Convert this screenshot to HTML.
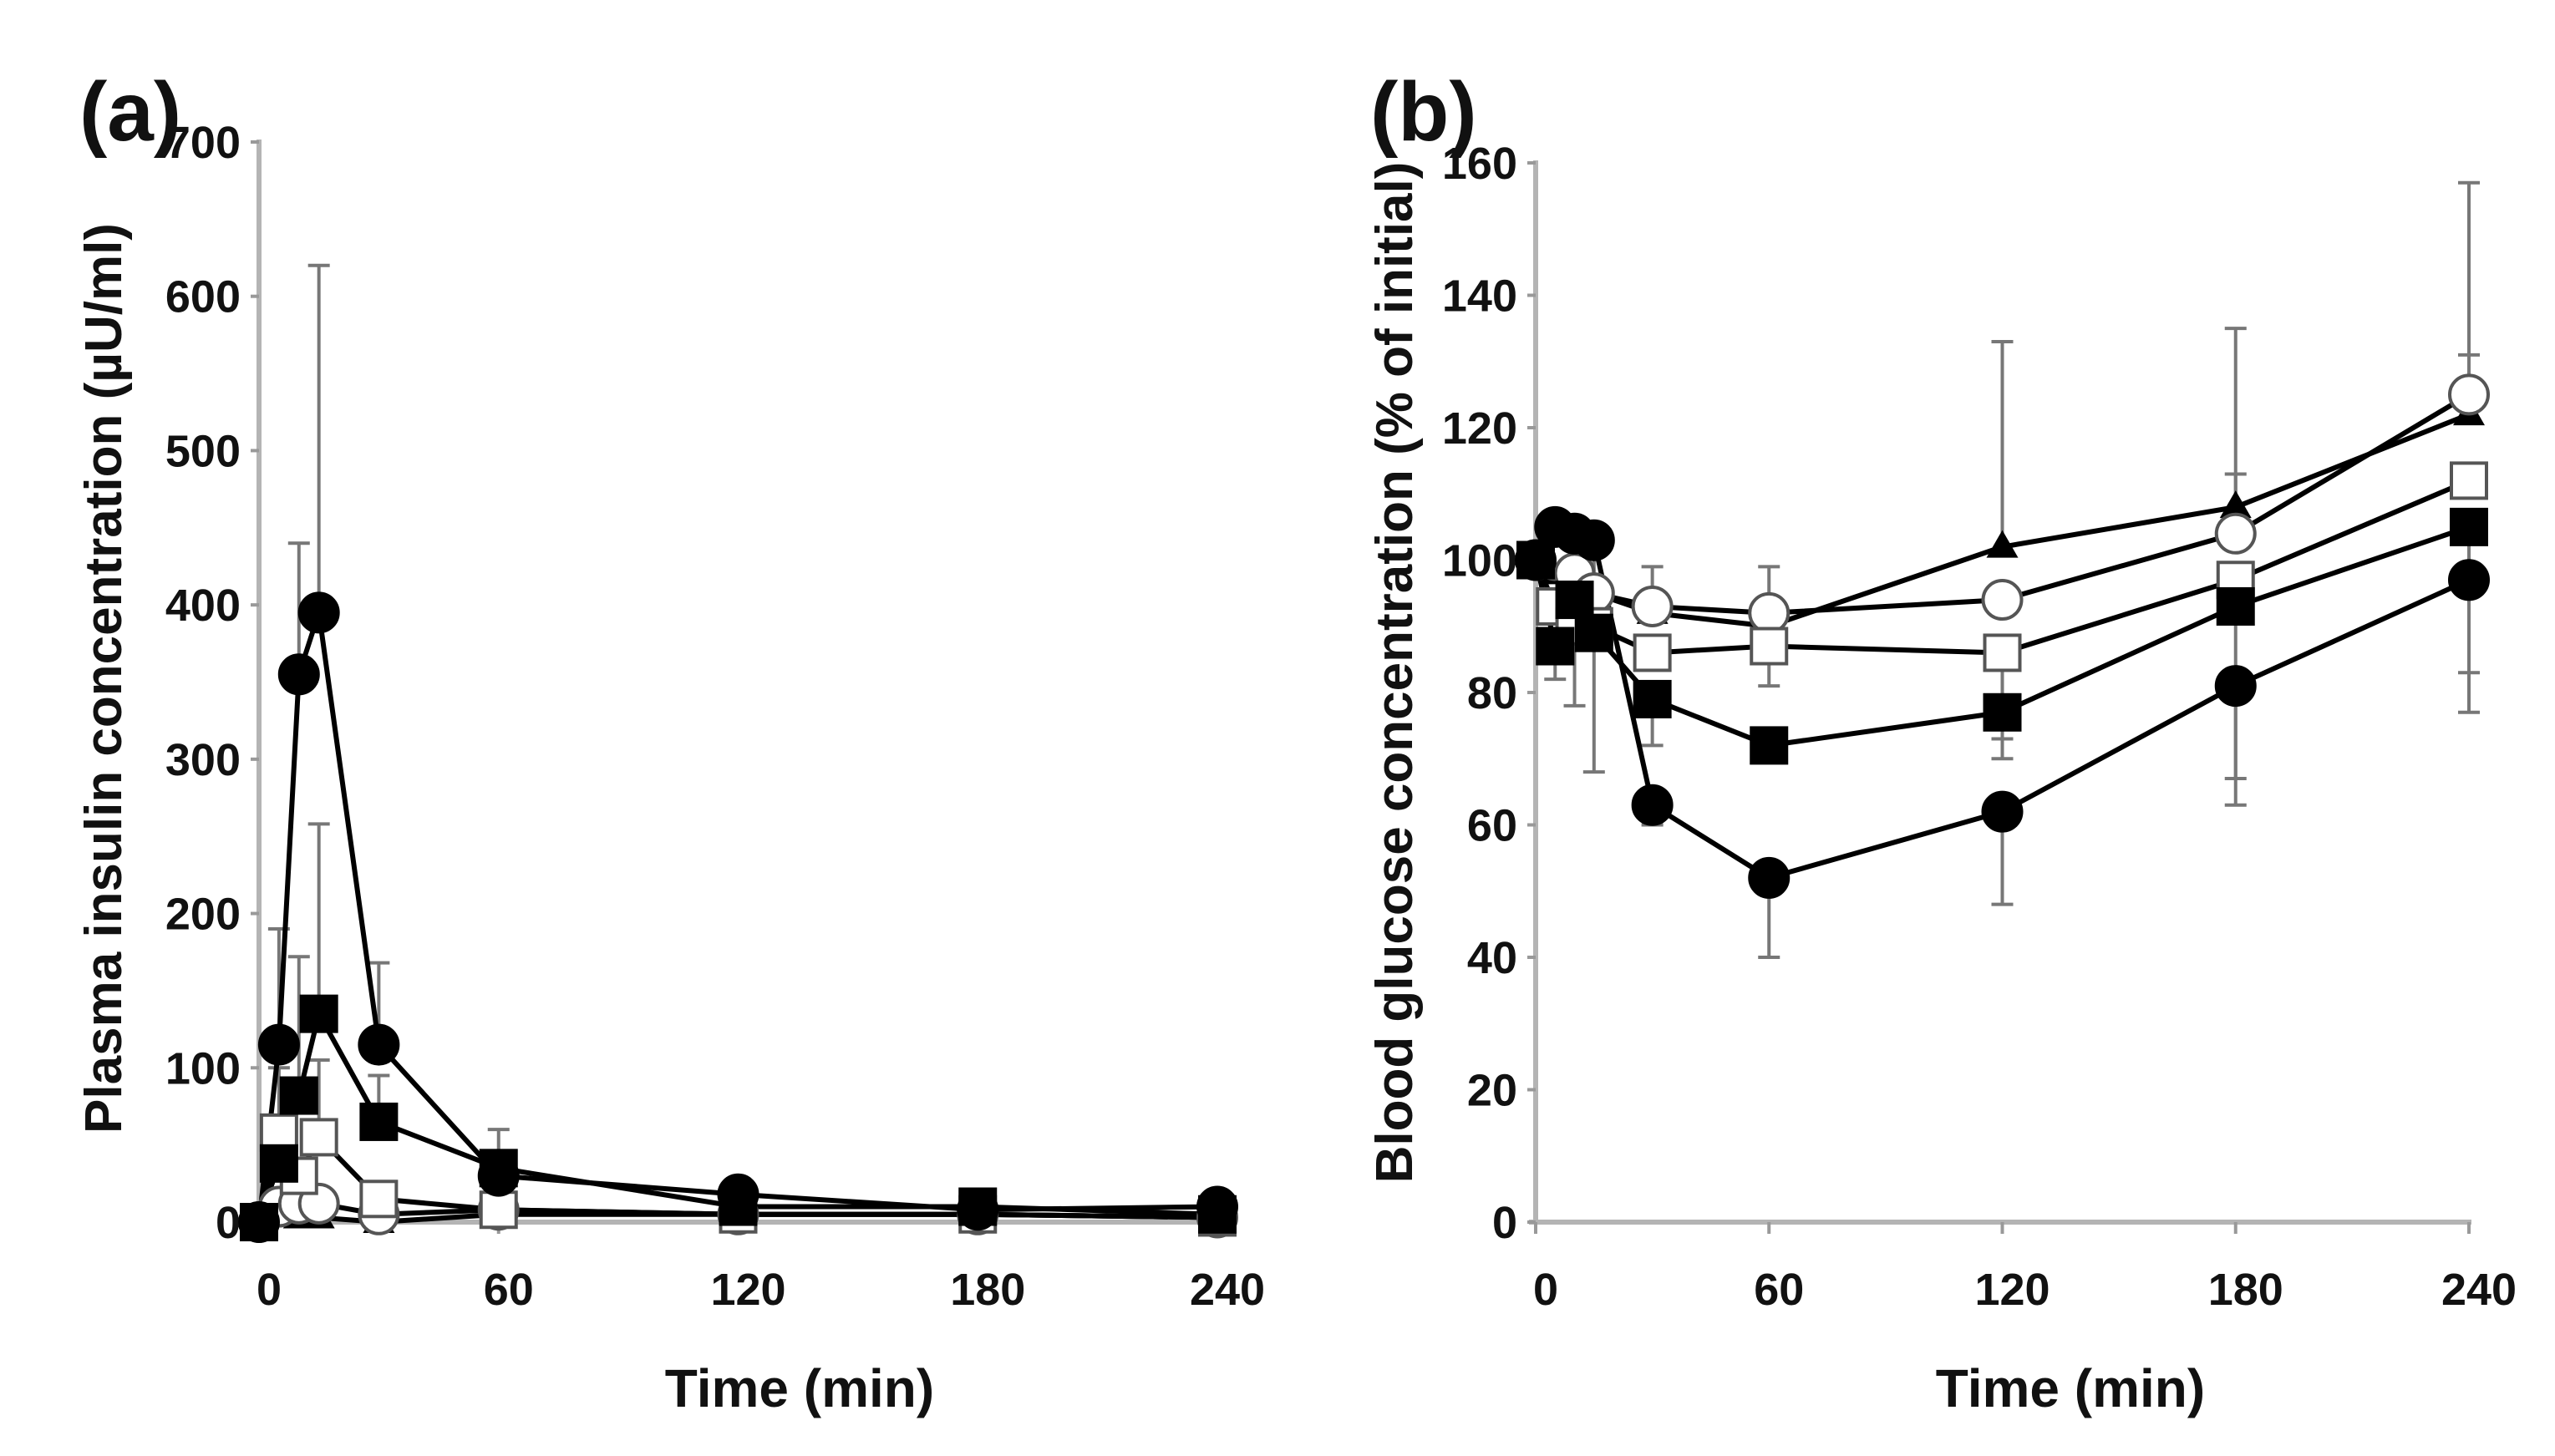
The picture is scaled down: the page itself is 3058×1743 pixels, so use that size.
<!DOCTYPE html>
<html><head><meta charset="utf-8">
<style>
html,body{margin:0;padding:0;background:#fff;}
svg{display:block;}
text{font-family:"Liberation Sans",Arial,sans-serif;font-weight:bold;fill:#111;}
</style></head>
<body>
<svg id="fig" width="3058" height="1743" viewBox="0 0 3058 1743" xmlns="http://www.w3.org/2000/svg">
<g id="pa"></g>
<g id="pb"></g>
</svg>
<script>
// ---- shared time categories ----
const times = [0, 5, 10, 15, 30, 60, 120, 180, 240];
const xTicks = [0, 60, 120, 180, 240];
// ---- panel a: plasma insulin ----
const aTicks = [0, 100, 200, 300, 400, 500, 600, 700];
const aTriangle = [0, 5, 3, 3, 0, 5, 5, 5, 3];
const aOpenCircle = [0, 10, 12, 12, 5, 8, 5, 5, 3];
const aOpenSquare = [0, 58, 30, 55, 15, 8, 5, 5, 3];
const aFilledSquare = [0, 38, 82, 135, 65, 35, 10, 10, 5];
const aFilledCircle = [0, 115, 355, 395, 115, 30, 18, 8, 10];
const aErrFilledCircle = [null, 190, 440, 620, 168, 60, null, null, null];
const aErrFilledSquare = [null, 100, 172, 258, 95, null, null, null, null];
const aErrOpenSquare = [null, null, null, 105, null, null, null, null, null];
// ---- panel b: blood glucose ----
const bTicks = [0, 20, 40, 60, 80, 100, 120, 140, 160];
const bTriangle = [100, 98, 96, 95, 92, 90, 102, 108, 122];
const bOpenCircle = [100, 100, 98, 95, 93, 92, 94, 104, 125];
const bOpenSquare = [100, 93, 90, 90, 86, 87, 86, 97, 112];
const bFilledSquare = [100, 87, 94, 89, 79, 72, 77, 93, 105];
const bFilledCircle = [100, 105, 104, 103, 63, 52, 62, 81, 97];
const bErrTriangle = [null, null, null, null, null, null, 133, 135, 157];
const bErrOpenCircle = [null, null, null, null, 99, 99, null, 113, 131];
const bErrOpenSquare = [null, null, null, null, null, 81, 73, null, null];
const bErrFilledSquare = [null, 82, 78, null, 72, null, 70, 67, 83];
const bErrFilledCircle = [null, null, null, 68, 60, 40, 48, 63, 77];

const NS = "http://www.w3.org/2000/svg";
function el(parent, tag, attrs, txt){
  const e = document.createElementNS(NS, tag);
  for (const k in attrs) e.setAttribute(k, attrs[k]);
  if (txt !== undefined) e.textContent = txt;
  parent.appendChild(e);
  return e;
}

function drawPanel(g, cfg){
  const xs = t => cfg.x0 + (t / 240) * (cfg.x1 - cfg.x0);
  const ys = v => cfg.y0 - (v / cfg.ymax) * (cfg.y0 - cfg.y1);
  const ax = el(g, "line", {x1: cfg.x0, y1: cfg.y1 - 3, x2: cfg.x0, y2: cfg.y0 + 2, stroke: "#b4b4b4", "stroke-width": 6});
  
  
  const axx = el(g, "line", {x1: cfg.x0 - 8, y1: cfg.y0, x2: cfg.x1 + 3, y2: cfg.y0, stroke: "#b4b4b4", "stroke-width": 6});
  
  
  cfg.yTicks.forEach(v => {
    const tk = el(g, "line", {x1: cfg.x0 - 10, y1: ys(v), x2: cfg.x0, y2: ys(v), stroke: "#999", "stroke-width": 4});
    
    
    const tl = el(g, "text", {x: cfg.x0 - 22, y: ys(v) + 19, "text-anchor": "end", "font-size": 54}, String(v));
    
    
  });
  xTicks.forEach(t => {
    const tk = el(g, "line", {x1: xs(t), y1: cfg.y0, x2: xs(t), y2: cfg.y0 + 14, stroke: "#999", "stroke-width": 4});
    
    
    const tl = el(g, "text", {x: xs(t) + 12, y: cfg.y0 + 99, "text-anchor": "middle", "font-size": 54}, String(t));
    
    
  });
  const xt = el(g, "text", {x: cfg.xTitleX, y: 1684, "text-anchor": "middle", "font-size": 64}, "Time (min)");
  
  
  const yt = el(g, "text", {x: 0, y: 0, "text-anchor": "middle", "font-size": cfg.yTitleSize, transform: "translate(" + cfg.yTitleX + "," + cfg.yTitleY + ") rotate(-90)"}, cfg.yTitle);
  
  
  const pl = el(g, "text", {x: cfg.labelX, y: 168, "font-size": 100}, cfg.label);
  
  

  cfg.series.forEach(s => {
    if (!s.err) return;
    s.err.forEach((e, i) => {
      if (e === null) return;
      const x = xs(times[i]);
      const eb = el(g, "line", {x1: x, y1: ys(s.vals[i]), x2: x, y2: ys(e), stroke: "#777", "stroke-width": 4});
      
      
      const cap = el(g, "line", {x1: x - 13, y1: ys(e), x2: x + 13, y2: ys(e), stroke: "#777", "stroke-width": 4});
      
      
    });
  });
  cfg.series.forEach(s => {
    const pts = s.vals.map((v, i) => xs(times[i]) + "," + ys(v)).join(" ");
    const ln = el(g, "polyline", {points: pts, fill: "none", stroke: "#000", "stroke-width": 6, "stroke-linejoin": "round"});
    
    
  });
  cfg.series.forEach(s => {
    s.vals.forEach((v, i) => {
      const x = xs(times[i]), y = ys(v);
      const fill = s.filled ? "#000" : "#fff";
      const stroke = s.filled ? "#000" : "#555";
      let m;
      if (s.shape === "circle") m = el(g, "circle", {cx: x, cy: y, r: 23, fill: fill, stroke: stroke, "stroke-width": 4});
      else if (s.shape === "square") m = el(g, "rect", {x: x - 21, y: y - 21, width: 42, height: 42, fill: fill, stroke: stroke, "stroke-width": 4});
      else m = el(g, "polygon", {points: (x) + "," + (y - 20) + " " + (x - 19) + "," + (y + 13) + " " + (x + 19) + "," + (y + 13), fill: "#000"});
      
      
    });
  });
}

drawPanel(document.getElementById("pa"), {
  x0: 310, x1: 1457, y0: 1463, y1: 170, ymax: 700, yTicks: aTicks,
  xTitleX: 957, yTitleX: 145, yTitleY: 812, yTitleSize: 62,
  yTitle: "Plasma insulin concentration (\u00b5U/ml)", label: "(a)", labelX: 95,
  series: [
    {name: "triangle", shape: "triangle", filled: true, vals: aTriangle},
    {name: "open-circle", shape: "circle", filled: false, vals: aOpenCircle},
    {name: "open-square", shape: "square", filled: false, vals: aOpenSquare, err: aErrOpenSquare},
    {name: "filled-square", shape: "square", filled: true, vals: aFilledSquare, err: aErrFilledSquare},
    {name: "filled-circle", shape: "circle", filled: true, vals: aFilledCircle, err: aErrFilledCircle}
  ]
});
drawPanel(document.getElementById("pb"), {
  x0: 1838, x1: 2955, y0: 1463, y1: 195, ymax: 160, yTicks: bTicks,
  xTitleX: 2478, yTitleX: 1690, yTitleY: 805, yTitleSize: 62,
  yTitle: "Blood glucose concentration (% of initial)", label: "(b)", labelX: 1640,
  series: [
    {name: "triangle", shape: "triangle", filled: true, vals: bTriangle, err: bErrTriangle},
    {name: "open-circle", shape: "circle", filled: false, vals: bOpenCircle, err: bErrOpenCircle},
    {name: "open-square", shape: "square", filled: false, vals: bOpenSquare, err: bErrOpenSquare},
    {name: "filled-square", shape: "square", filled: true, vals: bFilledSquare, err: bErrFilledSquare},
    {name: "filled-circle", shape: "circle", filled: true, vals: bFilledCircle, err: bErrFilledCircle}
  ]
});
</script>
</body></html>
